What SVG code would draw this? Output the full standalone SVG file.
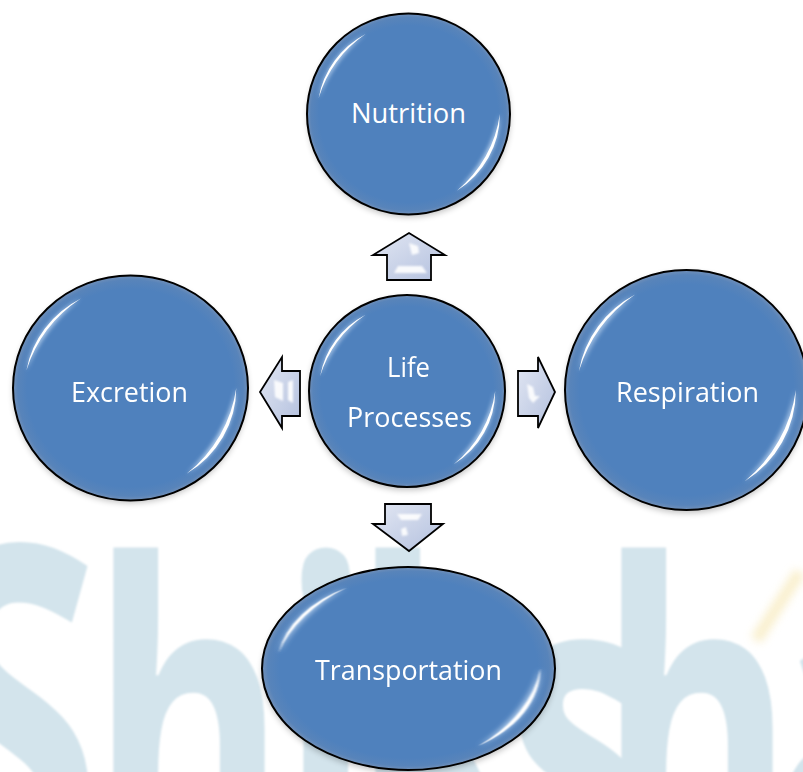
<svg xmlns="http://www.w3.org/2000/svg" width="803" height="772" viewBox="0 0 803 772">
<style>
.lbl{font-family:"Open Sans","Liberation Sans",sans-serif;font-size:28px;fill:#ffffff;text-anchor:middle}
.node{fill:url(#blueFill);stroke:#000;stroke-width:2}
.shadow{fill:#000;opacity:0.25;filter:url(#soft)}
.arrow{fill:url(#arrowFill);stroke:#000;stroke-width:1.8;stroke-linejoin:miter}
.ahl{fill:#ffffff;opacity:0.9;filter:url(#ablur)}
</style>
<defs>
<radialGradient id="blueFill" cx="50%" cy="50%" r="50%">
<stop offset="0" stop-color="#4f81bd"/>
<stop offset="0.88" stop-color="#4f81bd"/>
<stop offset="0.96" stop-color="#5884ba"/>
<stop offset="1" stop-color="#7290b8"/>
</radialGradient>
<linearGradient id="arrowFill" x1="0" y1="0" x2="1" y2="1">
<stop offset="0" stop-color="#e2e7f3"/>
<stop offset="1" stop-color="#b3c0de"/>
</linearGradient>
<filter id="soft" x="-10%" y="-10%" width="120%" height="120%"><feGaussianBlur stdDeviation="3"/></filter>
<filter id="ablur" x="-30%" y="-30%" width="160%" height="160%"><feGaussianBlur stdDeviation="0.8"/></filter>
<filter id="wblur" x="-5%" y="-5%" width="110%" height="110%"><feGaussianBlur stdDeviation="1.2"/></filter>
<filter id="yblur" x="-30%" y="-30%" width="160%" height="160%"><feGaussianBlur stdDeviation="4"/></filter>
<filter id="gblur" x="-30%" y="-30%" width="160%" height="160%"><feGaussianBlur stdDeviation="0.02"/></filter>
<filter id="cblur" x="-30%" y="-30%" width="160%" height="160%"><feGaussianBlur stdDeviation="0.006"/></filter>
<g id="gloss">
<g fill="#c4dbf5" filter="url(#gblur)" opacity="0.95">
<path d="M-0.886,-0.156 A0.9,0.9 0 0 1 -0.423,-0.795 A1.5,1.5 0 0 0 -0.886,-0.156 Z"/>
<path d="M0.9,0 A0.9,0.9 0 0 1 0.477,0.763 A1.5,1.5 0 0 0 0.9,0 Z"/>
</g>
<g fill="#ffffff" filter="url(#cblur)">
<path d="M-0.886,-0.156 A0.9,0.9 0 0 1 -0.423,-0.795 A1.2,1.2 0 0 0 -0.886,-0.156 Z"/>
<path d="M0.9,0 A0.9,0.9 0 0 1 0.477,0.763 A1.2,1.2 0 0 0 0.9,0 Z"/>
</g>
</g>
</defs>
<rect width="803" height="772" fill="#ffffff"/>
<g id="watermark" fill="#d3e4ec" font-family="'Open Sans','Liberation Sans',sans-serif" font-weight="700" font-size="300" filter="url(#wblur)">
<text transform="scale(1,1.5)" x="-75" y="593" font-size="320" xml:space="preserve">S</text>
<text transform="scale(1,1.5)" x="90 280 352" y="593">hik</text>
<text transform="scale(1,1.5)" x="505 598 772" y="593">sha</text>
</g>
<path d="M756,640 C772,615 785,595 800,572" fill="none" stroke="#f5e3a6" stroke-width="12" opacity="0.55" filter="url(#yblur)"/>
<g id="connectors">
<g id="arrow-up">
<polygon class="arrow" points="387,280 431,280 431,255 445,255 409,233 373,255 387,255"/>
<polygon class="ahl" points="409,243 418,246 419,253 412,255"/>
<polygon class="ahl" points="398,266 422,266 427,273 394,273"/>
</g>
<g id="arrow-left">
<polygon class="arrow" points="300,371 300,416 282,416 282,428 260,392 282,357 282,371"/>
<polygon class="ahl" points="274,380 283,383 283,401 275,397"/>
<polygon class="ahl" points="288,382 293,380 293,403 288,400"/>
</g>
<g id="arrow-right">
<polygon class="arrow" points="518,371 538,371 538,357 555,392 538,428 538,416 518,416"/>
<polygon class="ahl" points="527,384 533,387 535,396 540,396 533,403 529,398"/>
</g>
<g id="arrow-down">
<polygon class="arrow" points="385,504 431,504 431,524 443,524 409,551 373,524 385,524"/>
<polygon class="ahl" points="397,514 422,514 418,520 401,520"/>
<polygon class="ahl" points="401,529 406,527 408,535 402,536"/>
</g>
</g>
<g id="node-nutrition">
<ellipse class="shadow" cx="409" cy="117" rx="101" ry="100"/>
<ellipse class="node" cx="408.5" cy="114" rx="101.5" ry="100.5"/>
<use href="#gloss" transform="translate(408.5,114) scale(101.5,100.5)"/>
<text class="lbl" x="408.5" y="123" textLength="115" lengthAdjust="spacingAndGlyphs">Nutrition</text>
</g>
<g id="node-excretion">
<ellipse class="shadow" cx="130.5" cy="391" rx="117" ry="112"/>
<ellipse class="node" cx="130.5" cy="388" rx="117.5" ry="112.5"/>
<use href="#gloss" transform="translate(130.5,388) scale(117.5,112.5)"/>
<text class="lbl" x="129.5" y="402" textLength="117" lengthAdjust="spacingAndGlyphs">Excretion</text>
</g>
<g id="node-life">
<ellipse class="shadow" cx="407" cy="394" rx="98" ry="96"/>
<ellipse class="node" cx="407" cy="391" rx="98" ry="96"/>
<use href="#gloss" transform="translate(407,391) scale(98,96)"/>
<text class="lbl" x="408.5" y="377" textLength="43" lengthAdjust="spacingAndGlyphs">Life</text>
<text class="lbl" x="409.5" y="427" textLength="125" lengthAdjust="spacingAndGlyphs">Processes</text>
</g>
<g id="node-respiration">
<ellipse class="shadow" cx="686.5" cy="393" rx="121" ry="120"/>
<ellipse class="node" cx="686.5" cy="390" rx="121.5" ry="120"/>
<use href="#gloss" transform="translate(686.5,390) scale(121.5,120)"/>
<text class="lbl" x="687.5" y="402" textLength="143" lengthAdjust="spacingAndGlyphs">Respiration</text>
</g>
<g id="node-transportation">
<ellipse class="shadow" cx="408.5" cy="672" rx="146" ry="101"/>
<ellipse class="node" cx="408.5" cy="668.5" rx="146.5" ry="101.5"/>
<use href="#gloss" transform="translate(408.5,668.5) scale(146.5,101.5)"/>
<text class="lbl" x="408.5" y="680" textLength="187" lengthAdjust="spacingAndGlyphs">Transportation</text>
</g>
</svg>
